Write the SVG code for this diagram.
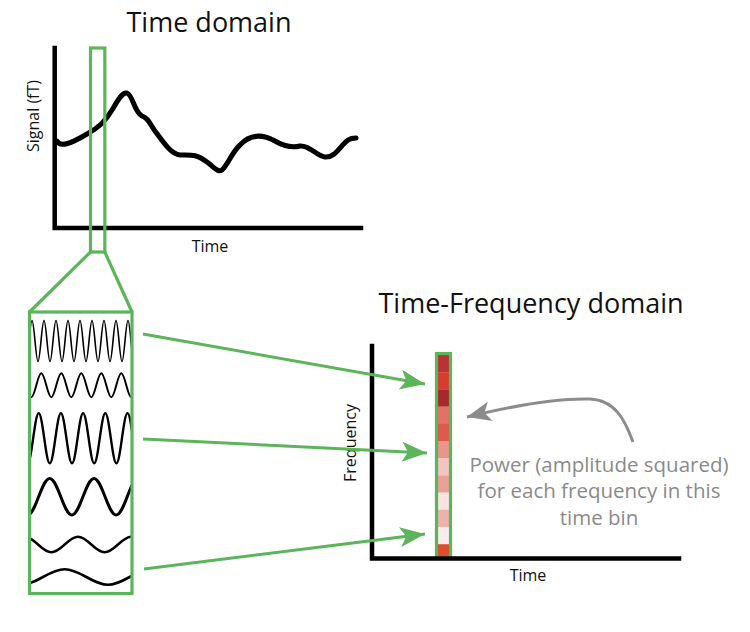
<svg xmlns="http://www.w3.org/2000/svg" width="750" height="632" viewBox="0 0 750 632">
<style>
.title{font-family:"Open Sans","Noto Sans",sans-serif;font-size:27px;fill:#111;text-anchor:middle}
.lbl{font-family:"Open Sans","Noto Sans",sans-serif;font-size:16px;fill:#111;text-anchor:middle}
.note{font-family:"Open Sans","Noto Sans",sans-serif;font-size:20.5px;fill:#8a8a8a;text-anchor:middle}
.axis{stroke:#000;stroke-width:4.5;fill:none;stroke-linecap:square}
.green{stroke:#5cb55a;fill:none;stroke-width:3.2}
.wave{stroke:#000;fill:none;stroke-linejoin:round}
.conn{stroke:#5cb55a;stroke-width:3;fill:none}
</style>
<defs>
<marker id="gh" markerUnits="userSpaceOnUse" markerWidth="30" markerHeight="24" viewBox="-26 -12 28 24" refX="0" refY="0" orient="auto">
<path d="M0,0 L-25,-10 L-19,0 L-25,10 Z" fill="#5cb55a"/>
</marker>
<marker id="ah" markerUnits="userSpaceOnUse" markerWidth="30" markerHeight="24" viewBox="-26 -12 28 24" refX="0" refY="0" orient="auto">
<path d="M0,0 L-24,-10 L-18,0 L-24,10 Z" fill="#8c8c8c"/>
</marker>
<clipPath id="wclip"><rect x="31" y="313" width="100" height="279"/></clipPath>
</defs>

<g id="time-domain">
<text class="title" x="209" y="32">Time domain</text>
<path class="axis" d="M54.7,48 V228 H361"/>
<path d="M57,141 C60,148 72,143 87,134 C98,128 105,122 112,110 C118,100 122,92 127,93 C133,95 134,112 142,116 C150,119 150,126 158,135 C166,146 172,154 180,155 C192,155 196,154 207,162 C214,167 218,173 222,170 C228,165 232,152 240,145 C250,134 262,134 275,141 C285,147 292,148 300,146 C310,145 316,156 325,157 C335,158 340,146 348,140 C351,138 353,138 356,138" fill="none" stroke="#000" stroke-width="5" stroke-linecap="round" stroke-linejoin="round"/>
<text class="lbl" x="210" y="252">Time</text>
<text class="lbl" x="39" y="116" transform="rotate(-90 39 116)">Signal (fT)</text>
<rect id="time-bin" class="green" x="90.5" y="48" width="14.3" height="204"/>
</g>

<g id="wavelet-box">
<g clip-path="url(#wclip)">
<path class="wave" stroke-width="1.6" d="M26,361.5 c2.184,0 3.816,-41 6,-41 s3.816,41 6,41 s3.816,-41 6,-41 s3.816,41 6,41 s3.816,-41 6,-41 s3.816,41 6,41 s3.816,-41 6,-41 s3.816,41 6,41 s3.816,-41 6,-41 s3.816,41 6,41 s3.816,-41 6,-41 s3.816,41 6,41 s3.816,-41 6,-41 s3.816,41 6,41 s3.816,-41 6,-41 s3.816,41 6,41 s3.816,-41 6,-41 s3.816,41 6,41 s3.816,-41 6,-41"/>
<path class="wave" stroke-width="2" d="M21.3,373.3 c3.64,0 6.36,24 10,24 s6.36,-24 10,-24 s6.36,24 10,24 s6.36,-24 10,-24 s6.36,24 10,24 s6.36,-24 10,-24 s6.36,24 10,24 s6.36,-24 10,-24 s6.36,24 10,24 s6.36,-24 10,-24 s6.36,24 10,24 s6.36,-24 10,-24"/>
<path class="wave" stroke-width="2.4" d="M16.5,413.3 c4.04,0 7.06,50 11.1,50 s7.06,-50 11.1,-50 s7.06,50 11.1,50 s7.06,-50 11.1,-50 s7.06,50 11.1,50 s7.06,-50 11.1,-50 s7.06,50 11.1,50 s7.06,-50 11.1,-50 s7.06,50 11.1,50 s7.06,-50 11.1,-50 s7.06,50 11.1,50 s7.06,-50 11.1,-50"/>
<path class="wave" stroke-width="3" d="M27.55,515 c8.06,0 14.09,-36.6 22.15,-36.6 s14.09,36.6 22.15,36.6 s14.09,-36.6 22.15,-36.6 s14.09,36.6 22.15,36.6 s14.09,-36.6 22.15,-36.6"/>
<path class="wave" stroke-width="2.4" d="M24.7,536.7 c9.7,0 16.95,15.6 26.65,15.6 s16.95,-15.6 26.65,-15.6 s16.95,15.6 26.65,15.6 s16.95,-15.6 26.65,-15.6 s16.95,15.6 26.65,15.6"/>
<path class="wave" stroke-width="2.6" d="M21.3,584.8 c15.78,0 27.57,-15.6 43.35,-15.6 s27.57,15.6 43.35,15.6 s27.57,-15.6 43.35,-15.6"/>
</g>
<rect class="green" x="29.5" y="312" width="102.5" height="281.5" stroke-width="3.5"/>
<path class="green" d="M90.5,252 L29.5,312 M104.8,252 L132,312"/>
</g>

<g id="tf-domain">
<text class="title" x="531" y="313">Time-Frequency domain</text>
<g id="power-column">
<rect x="438" y="355" width="11" height="17.4" fill="#b83434"/>
<rect x="438" y="372.2" width="11" height="17.4" fill="#d93b31"/>
<rect x="438" y="389.4" width="11" height="17.4" fill="#a6292b"/>
<rect x="438" y="406.6" width="11" height="17.4" fill="#e27264"/>
<rect x="438" y="423.8" width="11" height="17.4" fill="#dd5a4c"/>
<rect x="438" y="441" width="11" height="17.4" fill="#e8958c"/>
<rect x="438" y="458.2" width="11" height="17.4" fill="#f2c5c0"/>
<rect x="438" y="475.4" width="11" height="17.4" fill="#eaa199"/>
<rect x="438" y="492.6" width="11" height="17.4" fill="#f8e3e0"/>
<rect x="438" y="509.8" width="11" height="17.4" fill="#efb1ab"/>
<rect x="438" y="527" width="11" height="17.4" fill="#f9edeb"/>
<rect x="438" y="544.2" width="11" height="13.8" fill="#dc4d33"/>
<rect class="green" x="436.5" y="353.5" width="14" height="204" stroke-width="3"/>
</g>
<path class="axis" d="M372,346 V558.5 H679"/>
<text class="lbl" x="528" y="581">Time</text>
<text class="lbl" x="356" y="443" transform="rotate(-90 356 443)">Frequency</text>
</g>

<g id="annotation">
<path d="M633,442 C625,420 615,400 590,399 C560,398 520,404 467,417" fill="none" stroke="#8c8c8c" stroke-width="3" marker-end="url(#ah)"/>
<text class="note" x="599" y="472">Power (amplitude squared)</text>
<text class="note" x="599" y="498">for each frequency in this</text>
<text class="note" x="599" y="525">time bin</text>
</g>

<g id="connectors">
<path class="conn" d="M143,334 L425,384" marker-end="url(#gh)"/>
<path class="conn" d="M143,439 L427,453" marker-end="url(#gh)"/>
<path class="conn" d="M144,569 L425,534" marker-end="url(#gh)"/>
</g>
</svg>
